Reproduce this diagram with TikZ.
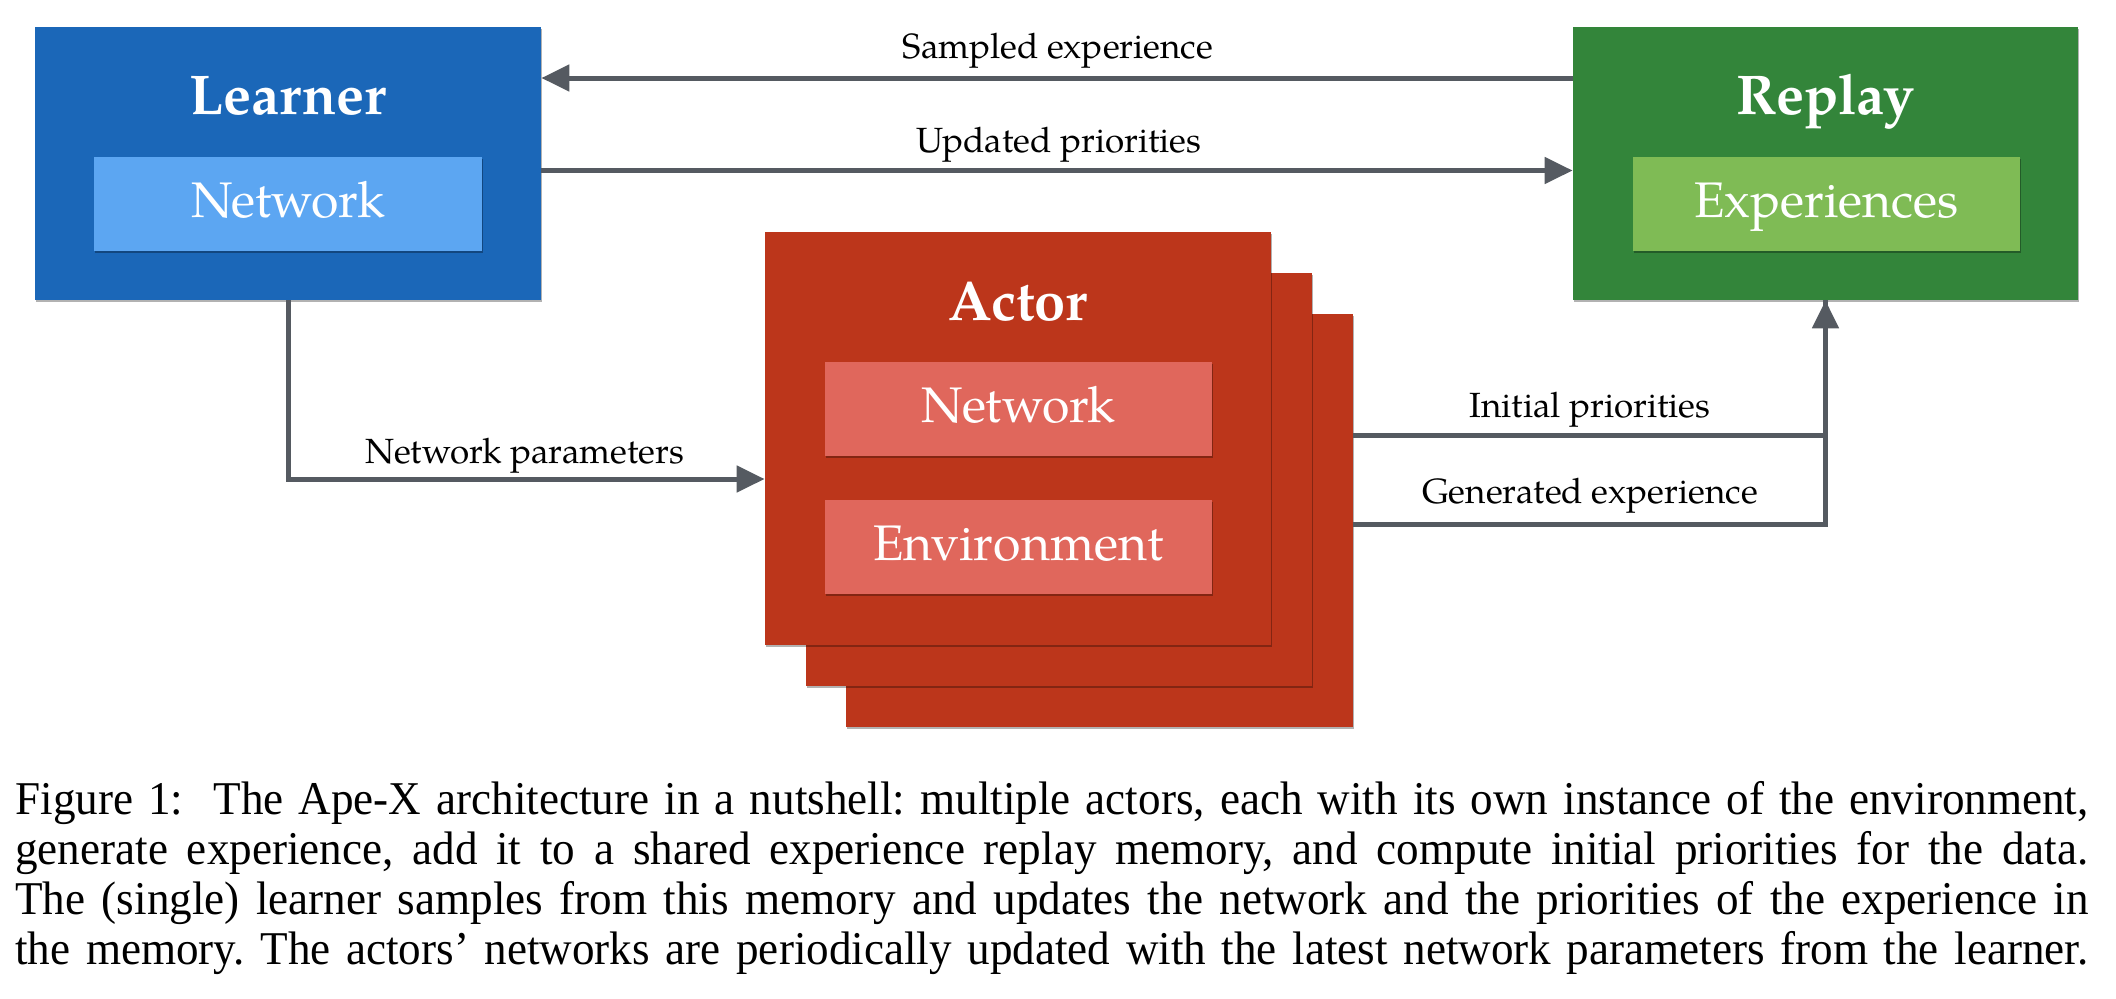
\documentclass[tikz,border=0pt]{standalone}
\usepackage{fontspec}
\setmainfont{Liberation Serif}
\newfontfamily\pal{TeX Gyre Pagella}
\newfontfamily\capfont[FakeStretch=0.96]{Liberation Serif}
\usetikzlibrary{arrows.meta,shadows}
\definecolor{learnerblue}{HTML}{1B67B8}
\definecolor{learnerlight}{HTML}{5CA6F2}
\definecolor{replaygreen}{HTML}{33853A}
\definecolor{replaylight}{HTML}{7FBB55}
\definecolor{actorred}{HTML}{BC361B}
\definecolor{actorlight}{HTML}{E0675C}
\definecolor{arrowgray}{HTML}{555A61}
\begin{document}
\begin{tikzpicture}[x=0.5pt,y=-0.5pt,
  box/.style={inner sep=0pt, draw=none,
    drop shadow={shadow xshift=0.7pt,shadow yshift=-1.2pt,opacity=0.3,fill=black}},
  outerbox/.style={box, minimum width=253pt, minimum height=136.5pt},
  actorbox/.style={box, fill=actorred, minimum width=253pt, minimum height=206.5pt},
  innerbox/.style={box, minimum width=194pt, minimum height=47pt, text=white,
    font=\pal\fontsize{25}{28}\selectfont, text height=18pt, text depth=4.5pt},
  title/.style={inner sep=0pt, anchor=base, text=white, font=\pal\bfseries\fontsize{28}{30}\selectfont},
  lbl/.style={inner sep=0pt, anchor=base, font=\pal\fontsize{17.5}{20}\selectfont},
  ln/.style={draw=arrowgray, line width=2.5pt},
  arr/.style={ln, -{Triangle[length=14pt,width=13pt]}}
]
\useasboundingbox (0,0) rectangle (2116,998);

% Learner
\node[outerbox, fill=learnerblue] (learner) at (288,163.5) {};
\node[title] (learnertitle) at (288,114) {Learner};
\node[innerbox, fill=learnerlight] (learnernet) at (288,203.5) {Network};

% Replay
\node[outerbox, fill=replaygreen, minimum width=252.5pt] (replay) at (1825.5,163.5) {};
\node[title] (replaytitle) at (1825.5,114) {Replay};
\node[innerbox, fill=replaylight, minimum width=193.5pt] (replayexp) at (1826.5,203.5) {Experiences};

% Actors
\node[actorbox, minimum width=253.5pt] (actor3) at (1099.5,520.5) {};
\node[actorbox] (actor2) at (1059,479.5) {};
\node[actorbox] (actor1) at (1018,438.5) {};
\node[title] (actortitle) at (1018,320) {Actor};
\node[innerbox, fill=actorlight, minimum width=193.5pt] (actornet) at (1018.5,409) {Network};
\node[innerbox, fill=actorlight, minimum width=193.5pt] (actorenv) at (1018.5,546.5) {Environment};

% Connectors
\draw[arr] ([yshift=42.75pt]replay.west) -- ([yshift=42.75pt]learner.east);
\draw[arr] ([yshift=-3.5pt]learner.east) -- ([yshift=-3.5pt]replay.west);
\draw[arr] (learner.south) |- ([yshift=-20.25pt]actor1.west);
\draw[ln] ([yshift=42.75pt]actor3.east) -| (replay.south);
\draw[arr] ([yshift=-1.75pt]actor3.east) -| (replay.south);

% Labels
\node[lbl] (lsampled) at (1058,58) {Sampled experience};
\node[lbl] (lupdated) at (1059,152) {Updated priorities};
\node[lbl] (lparams) at (525,463) {Network parameters};
\node[lbl] (linitial) at (1590,417) {Initial priorities};
\node[lbl] (lgenerated) at (1590,503) {Generated experience};

% Caption
\node[inner sep=0pt, anchor=base west, text width=1036.5pt, align=justify,
  font=\capfont\fontsize{23.5}{25}\selectfont] (caption) at (15,814)
{\frenchspacing Figure 1:\ \ The Ape-X architecture in a nutshell: multiple actors, each with its own instance of the environment,\linebreak
generate experience, add it to a shared experience replay memory, and compute initial priorities for the data.\linebreak
The (single) learner samples from this memory and updates the network and the priorities of the experience in\linebreak
the memory. The actors’ networks are periodically updated with the latest network parameters from the learner.\parfillskip=0pt\par};
\end{tikzpicture}
\end{document}
